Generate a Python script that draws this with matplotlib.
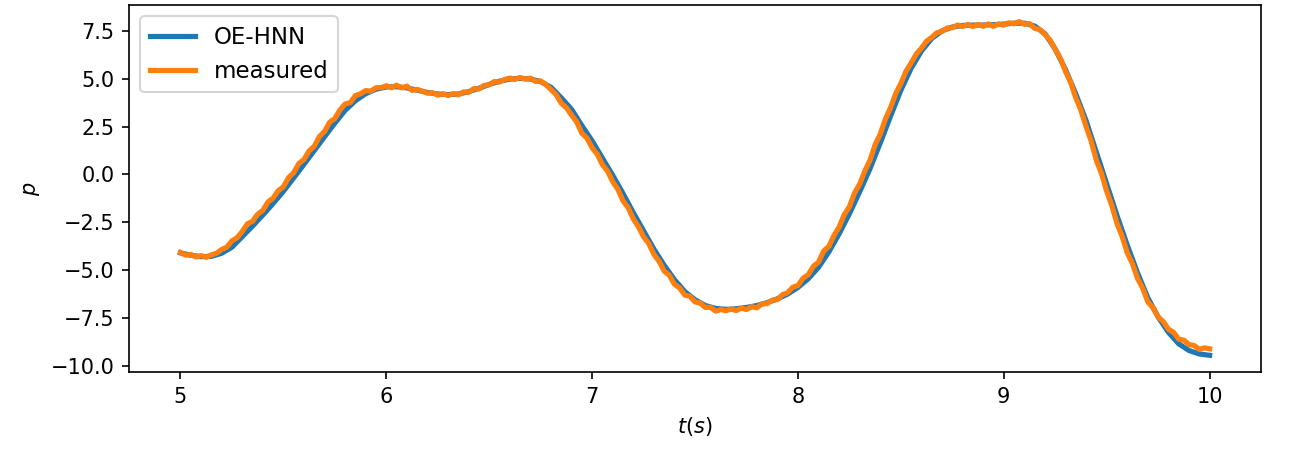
import matplotlib.pyplot as plt
import numpy as np

# sample times (s)
t_model = np.linspace(5, 10, 101)
t_meas = np.linspace(5, 10, 201)

# OE-HNN prediction, read every 0.05 s
p_model = [
    -4.10, -4.22, -4.30, -4.28, -4.12, -3.80, -3.25, -2.70, -2.12, -1.52,
    -0.88, -0.18, 0.53, 1.25, 1.97, 2.68, 3.35, 3.85, 4.22, 4.45,
    4.57, 4.58, 4.52, 4.40, 4.28, 4.20, 4.17, 4.20, 4.32, 4.50,
    4.70, 4.87, 4.98, 5.02, 4.98, 4.85, 4.55, 4.00, 3.40, 2.55,
    1.75, 0.85, -0.05, -1.00, -2.00, -2.95, -3.90, -4.75, -5.50, -6.12,
    -6.55, -6.85, -7.00, -7.05, -7.02, -6.95, -6.85, -6.70, -6.50, -6.25,
    -5.90, -5.45, -4.85, -4.05, -3.10, -2.05, -0.90, 0.30, 1.65, 3.05,
    4.40, 5.55, 6.45, 7.10, 7.50, 7.70, 7.78, 7.80, 7.80, 7.82,
    7.85, 7.90, 7.90, 7.75, 7.35, 6.55, 5.47, 4.20, 2.80, 1.15,
    -0.50, -2.15, -3.70, -5.15, -6.45, -7.45, -8.25, -8.85, -9.20, -9.38,
    -9.45,
]

# measured signal, read every 0.025 s
p_meas = [
    -4.08, -4.22, -4.18, -4.31, -4.24, -4.33, -4.20, -4.12, -3.92, -3.80,
    -3.47, -3.31, -2.98, -2.58, -2.45, -2.08, -1.88, -1.44, -1.24, -0.85,
    -0.65, -0.17, 0.09, 0.57, 0.78, 1.23, 1.47, 1.98, 2.25, 2.73,
    2.92, 3.37, 3.68, 3.75, 4.12, 4.21, 4.38, 4.35, 4.53, 4.53,
    4.63, 4.53, 4.66, 4.52, 4.61, 4.39, 4.44, 4.35, 4.24, 4.27,
    4.14, 4.21, 4.12, 4.22, 4.16, 4.31, 4.29, 4.48, 4.46, 4.65,
    4.68, 4.85, 4.82, 4.96, 5.03, 4.97, 5.06, 4.98, 5.03, 4.86,
    4.88, 4.70, 4.43, 4.17, 3.72, 3.48, 3.10, 2.74, 2.15, 1.89,
    1.39, 1.05, 0.51, 0.17, -0.38, -0.78, -1.38, -1.74, -2.32, -2.74,
    -3.26, -3.61, -4.18, -4.53, -5.05, -5.27, -5.74, -5.93, -6.30, -6.37,
    -6.66, -6.72, -6.95, -6.94, -7.14, -7.06, -7.12, -7.03, -7.11, -6.99,
    -7.06, -6.91, -6.97, -6.76, -6.75, -6.57, -6.54, -6.28, -6.18, -5.89,
    -5.80, -5.42, -5.24, -4.80, -4.58, -4.00, -3.76, -3.19, -2.75, -2.10,
    -1.69, -0.97, -0.50, 0.18, 0.74, 1.56, 2.11, 2.90, 3.49, 4.22,
    4.75, 5.39, 5.82, 6.29, 6.60, 6.96, 7.16, 7.40, 7.47, 7.65,
    7.66, 7.80, 7.73, 7.83, 7.73, 7.83, 7.74, 7.86, 7.74, 7.86,
    7.80, 7.92, 7.87, 7.98, 7.84, 7.88, 7.63, 7.57, 7.31, 7.01,
    6.52, 6.06, 5.38, 4.80, 4.00, 3.34, 2.49, 1.73, 0.72, 0.04,
    -0.88, -1.63, -2.56, -3.24, -4.10, -4.66, -5.44, -5.95, -6.66, -6.96,
    -7.45, -7.69, -8.09, -8.25, -8.61, -8.66, -8.89, -8.94, -9.14, -9.06,
    -9.11,
]

fig = plt.figure(figsize=(1293 / 150, 452 / 150), dpi=150)
ax = fig.add_subplot(111)
fig.subplots_adjust(left=0.0998, right=0.9753, top=0.989, bottom=0.177)

ax.plot(t_model, p_model, color='#1f77b4', lw=2.5, label='OE-HNN')
ax.plot(t_meas, p_meas, color='#ff7f0e', lw=2.5, label='measured')
ax.set_xlabel('$t(s)$')
ax.set_ylabel('$p$')
ax.legend(loc='upper left', fontsize=11)

plt.savefig('out.png')
plt.close()
